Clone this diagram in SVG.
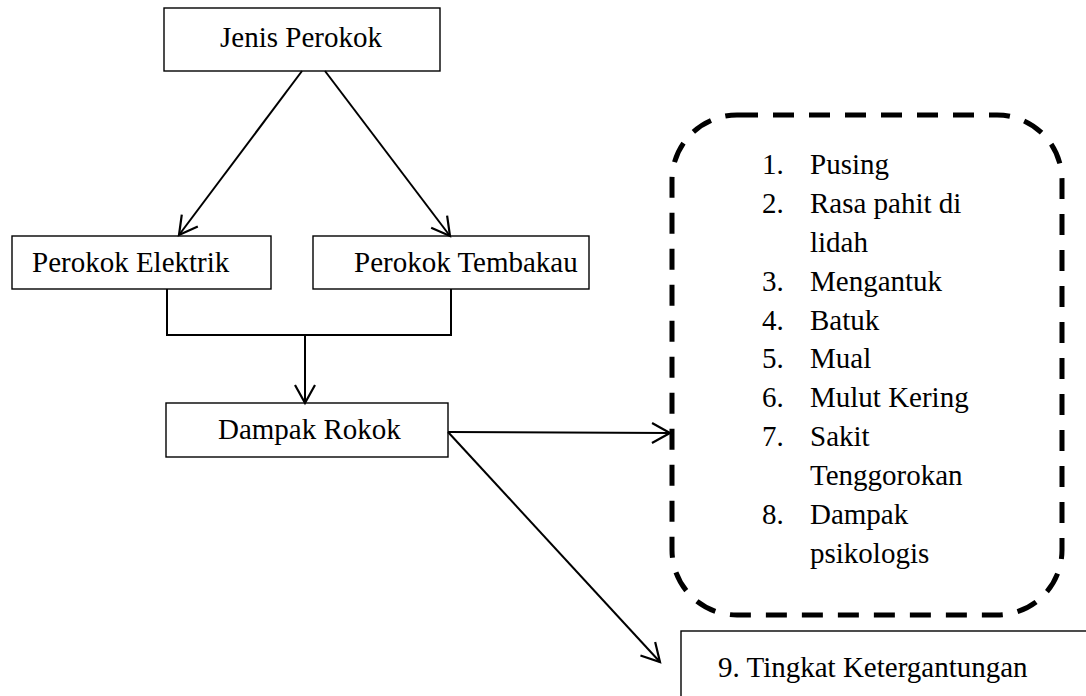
<svg xmlns="http://www.w3.org/2000/svg" width="1086" height="696" viewBox="0 0 1086 696">
<style>
.box{fill:#fff;stroke:#000;stroke-width:1.4}
.t{font-family:"Liberation Serif","Times New Roman",serif;font-size:29px;fill:#000}
.c{fill:none;stroke:#000;stroke-width:2}
.dash{fill:none;stroke:#000;stroke-width:5;stroke-dasharray:21 15}
</style>
<defs>
<marker id="arr" markerUnits="userSpaceOnUse" markerWidth="24" markerHeight="24" refX="20" refY="12" orient="auto">
<path d="M2,2 L20,12 L2,22" fill="none" stroke="#000" stroke-width="2.2"/>
</marker>
</defs>
<rect width="1086" height="696" fill="#fff"/>
<g id="jenis">
<rect class="box" x="164" y="8" width="276" height="63"/>
<text class="t" x="220" y="47">Jenis Perokok</text>
</g>
<g id="elektrik">
<rect class="box" x="12" y="236" width="259" height="53"/>
<text class="t" x="32" y="272">Perokok Elektrik</text>
</g>
<g id="tembakau">
<rect class="box" x="313" y="236" width="276" height="53"/>
<text class="t" x="354" y="272">Perokok Tembakau</text>
</g>
<g id="dampak">
<rect class="box" x="166" y="403" width="282" height="54"/>
<text class="t" x="218" y="439">Dampak Rokok</text>
</g>
<g id="gejala">
<rect class="dash" x="672" y="115" width="390" height="500" rx="65" ry="65"/>
<g class="t">
<text x="762" y="174">1.</text><text x="810" y="174">Pusing</text>
<text x="762" y="213">2.</text><text x="810" y="213">Rasa pahit di</text>
<text x="810" y="252">lidah</text>
<text x="762" y="291">3.</text><text x="810" y="291">Mengantuk</text>
<text x="762" y="330">4.</text><text x="810" y="330">Batuk</text>
<text x="762" y="368">5.</text><text x="810" y="368">Mual</text>
<text x="762" y="407">6.</text><text x="810" y="407">Mulut Kering</text>
<text x="762" y="446">7.</text><text x="810" y="446">Sakit</text>
<text x="810" y="485">Tenggorokan</text>
<text x="762" y="524">8.</text><text x="810" y="524">Dampak</text>
<text x="810" y="563">psikologis</text>
</g>
</g>
<g id="tingkat">
<rect class="box" x="681" y="631" width="420" height="80"/>
<text class="t" x="718" y="677">9. Tingkat Ketergantungan</text>
</g>
<g id="connectors">
<line class="c" x1="302" y1="71" x2="179" y2="235" marker-end="url(#arr)"/>
<line class="c" x1="325" y1="71" x2="450" y2="236" marker-end="url(#arr)"/>
<path class="c" d="M167,289 V335 H451 V289"/>
<line class="c" x1="305" y1="335" x2="305" y2="403" marker-end="url(#arr)"/>
<line class="c" x1="448" y1="432" x2="670" y2="433" marker-end="url(#arr)"/>
<line class="c" x1="448" y1="432" x2="660" y2="662" marker-end="url(#arr)"/>
</g>
</svg>
